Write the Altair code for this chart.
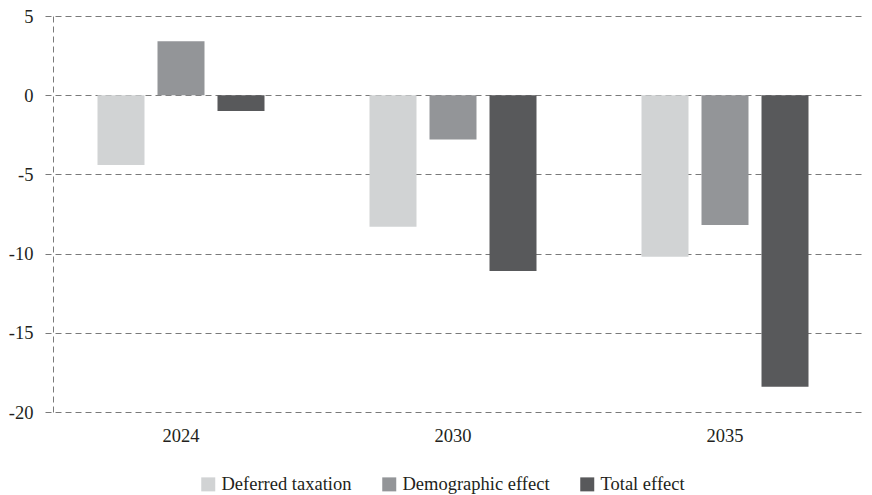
import altair as alt
import pandas as pd

years = ["2024", "2030", "2035"]
series = ["Deferred taxation", "Demographic effect", "Total effect"]
deferred = [-4.4, -8.3, -10.2]
demographic = [3.4, -2.8, -8.2]
total = [-1.0, -11.1, -18.4]
colors = ["#d1d3d4", "#939598", "#58595b"]
y_ticks = [-20, -15, -10, -5, 0, 5]

rows = []
for name, vals in zip(series, [deferred, demographic, total]):
    for yr, v in zip(years, vals):
        rows.append({"year": yr, "series": name, "value": v})
df = pd.DataFrame(rows)

FONT = "Liberation Serif"
FS = 18.5
GRID = "#7a7a7a"
TXT = "#231f20"

chart = alt.Chart(df).mark_bar().encode(
    x=alt.X("year:N", sort=years,
            scale=alt.Scale(paddingInner=0, paddingOuter=0.0055, align=0),
            axis=alt.Axis(title=None, labelAngle=0, domain=False, ticks=False,
                          labelPadding=14, labelFont=FONT, labelFontSize=FS,
                          labelColor=TXT, grid=False)),
    xOffset=alt.XOffset("series:N", sort=series,
                        scale=alt.Scale(paddingInner=0.2167, paddingOuter=0.875)),
    y=alt.Y("value:Q",
            scale=alt.Scale(domain=[-20, 5], nice=False, zero=False),
            axis=alt.Axis(title=None, values=y_ticks, offset=-8,
                          labelExpr="datum.value < 0 ? '-' + abs(datum.value) : '' + datum.value",
                          domainDash=[6, 4], domainColor=GRID, domainWidth=1,
                          ticks=False, tickSize=0, labelPadding=20,
                          labelFont=FONT, labelFontSize=FS, labelColor=TXT,
                          grid=True, gridDash=[6, 4], gridColor=GRID, gridWidth=1,
                          gridOpacity=1)),
    color=alt.Color("series:N", sort=series,
                    scale=alt.Scale(domain=series, range=colors),
                    legend=alt.Legend(title=None, orient="none", legendX=154, legendY=459,
                                      direction="horizontal", symbolType="square",
                                      symbolSize=196, symbolStrokeWidth=0,
                                      symbolOpacity=1,
                                      labelFont=FONT, labelFontSize=FS,
                                      labelColor=TXT, labelOffset=4,
                                      columnPadding=28)),
).properties(
    width=819, height=396,
    autosize=alt.AutoSizeParams(type="none"),
    padding={"left": 37, "top": 8, "right": 0, "bottom": 92},
).configure_view(stroke=None)

chart.save("out.html", embed_options={"renderer": "svg", "actions": False})
